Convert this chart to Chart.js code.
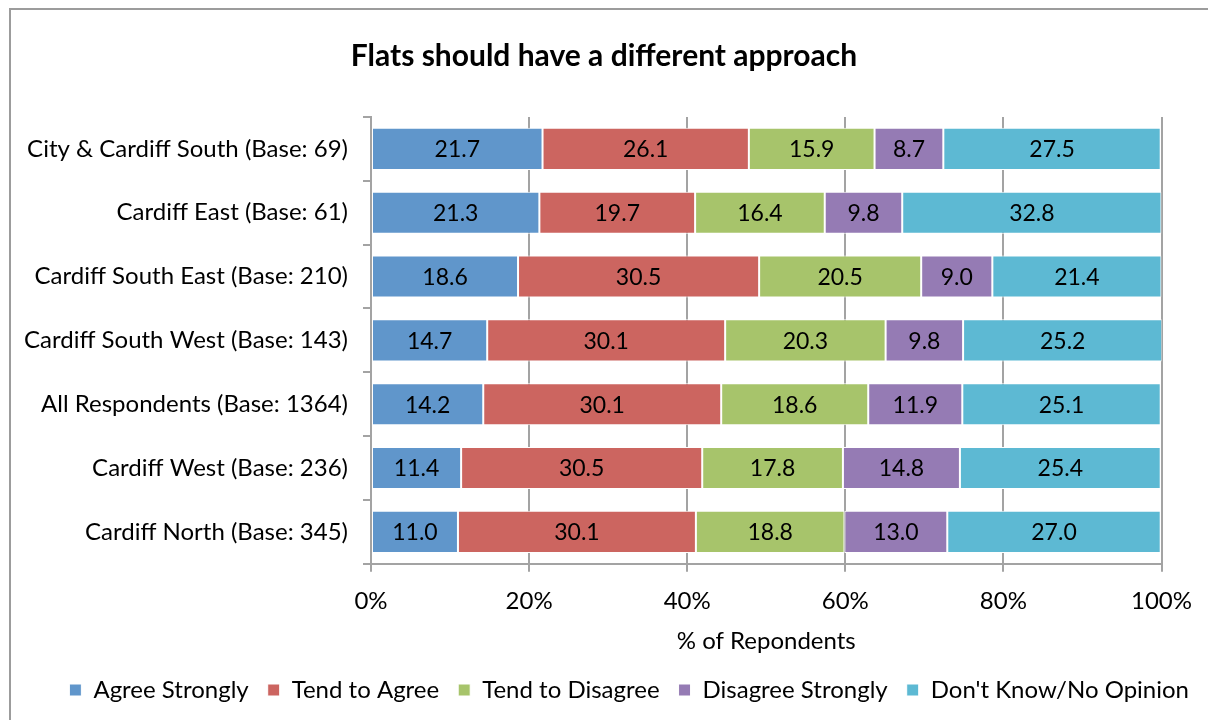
<!DOCTYPE html>
<html>
<head>
<meta charset="utf-8">
<script src="https://cdn.jsdelivr.net/npm/chart.js@4.4.0/dist/chart.umd.min.js"></script>
<style>
    html, body { margin: 0; padding: 0; background: #fff; overflow: hidden; }
    #frame {
        position: absolute; left: 9px; top: 8px; width: 1220px; height: 730px;
        border-left: 2px solid #9c9c9c; border-top: 2px solid #9c9c9c;
    }
    #chartBox { position: absolute; left: 0; top: 0; width: 1208px; height: 720px; }
</style>
</head>
<body>
<div id="frame"></div>
<div id="chartBox"><canvas id="flatsChart" width="1208" height="720"></canvas></div>
<script>
const categories = [
    'City & Cardiff South (Base: 69)',
    'Cardiff East (Base: 61)',
    'Cardiff South East (Base: 210)',
    'Cardiff South West (Base: 143)',
    'All Respondents (Base: 1364)',
    'Cardiff West (Base: 236)',
    'Cardiff North (Base: 345)'
];
const agreeStrongly = [21.7, 21.3, 18.6, 14.7, 14.2, 11.4, 11.0];
const tendToAgree = [26.1, 19.7, 30.5, 30.1, 30.1, 30.5, 30.1];
const tendToDisagree = [15.9, 16.4, 20.5, 20.3, 18.6, 17.8, 18.8];
const disagreeStrongly = [8.7, 9.8, 9.0, 9.8, 11.9, 14.8, 13.0];
const dontKnow = [27.5, 32.8, 21.4, 25.2, 25.1, 25.4, 27.0];
const xTicks = [0, 20, 40, 60, 80, 100];

const fontName = 'Lato, "DejaVu Sans", sans-serif';
const gridGrey = '#a3a3a3';

// writes the value in the middle of every bar segment
const barValueLabels = {
    id: 'barValueLabels',
    afterDatasetsDraw(chart) {
        const ctx = chart.ctx;
        ctx.save();
        ctx.font = '23px ' + fontName;
        ctx.fillStyle = '#000';
        ctx.textAlign = 'center';
        ctx.textBaseline = 'middle';
        chart.data.datasets.forEach((ds, i) => {
            const meta = chart.getDatasetMeta(i);
            meta.data.forEach((bar, j) => {
                const p = bar.getProps(['x', 'y', 'base'], true);
                ctx.fillText(ds.data[j].toFixed(1), (p.x + p.base) / 2, p.y + 1);
            });
        });
        ctx.restore();
    }
};

function makeSet(label, values, colour) {
    return {
        label: label,
        data: values,
        backgroundColor: colour,
        borderColor: '#ffffff',
        borderWidth: 1,
        borderSkipped: false,
        barPercentage: 0.66,
        categoryPercentage: 1
    };
}

function renderFlatsChart() {
    const ctx = document.getElementById('flatsChart').getContext('2d');
    new Chart(ctx, {
        type: 'bar',
        data: {
            labels: categories,
            datasets: [
                makeSet('Agree Strongly', agreeStrongly, '#6096cb'),
                makeSet('Tend to Agree', tendToAgree, '#cc6560'),
                makeSet('Tend to Disagree', tendToDisagree, '#a7c46b'),
                makeSet('Disagree Strongly', disagreeStrongly, '#957bb4'),
                makeSet("Don't Know/No Opinion", dontKnow, '#5db9d3')
            ]
        },
        options: {
            indexAxis: 'y',
            responsive: false,
            devicePixelRatio: 1,
            animation: false,
            layout: {
                padding: { left: 0, right: 0, top: 0, bottom: 8 }
            },
            scales: {
                x: {
                    stacked: true,
                    min: 0,
                    max: 100,
                    afterBuildTicks: function(scale) {
                        scale.ticks = xTicks.map(v => ({ value: v }));
                    },
                    ticks: {
                        color: '#000',
                        font: { family: fontName, size: 24, lineHeight: 1.1667 },
                        padding: 16,
                        callback: function(value) {
                            return value + '%';
                        }
                    },
                    grid: {
                        color: gridGrey,
                        lineWidth: 2,
                        tickLength: 8
                    },
                    border: { color: gridGrey, width: 2 },
                    title: {
                        display: true,
                        text: '% of Repondents',
                        color: '#000',
                        font: { family: fontName, size: 24, lineHeight: 0.01 },
                        padding: { top: 9, bottom: 18 }
                    }
                },
                y: {
                    stacked: true,
                    afterFit: function(scale) {
                        scale.width = 371;
                    },
                    ticks: {
                        color: '#000',
                        font: { family: fontName, size: 24 },
                        padding: 15
                    },
                    grid: {
                        offset: true,
                        drawOnChartArea: false,
                        color: gridGrey,
                        lineWidth: 2,
                        tickLength: 8
                    },
                    border: { color: gridGrey, width: 2 }
                }
            },
            plugins: {
                title: {
                    display: true,
                    text: 'Flats should have a different approach',
                    color: '#000',
                    font: { family: fontName, size: 30, weight: 'bold' },
                    padding: { top: 38, bottom: 43 }
                },
                legend: {
                    position: 'bottom',
                    align: 'end',
                    labels: {
                        color: '#000',
                        font: { family: fontName, size: 24 },
                        boxWidth: 12,
                        boxHeight: 12,
                        padding: 19
                    }
                },
                tooltip: { enabled: false }
            }
        },
        plugins: [barValueLabels]
    });
}

document.addEventListener('DOMContentLoaded', function() {
    renderFlatsChart();
});
</script>
</body>
</html>
